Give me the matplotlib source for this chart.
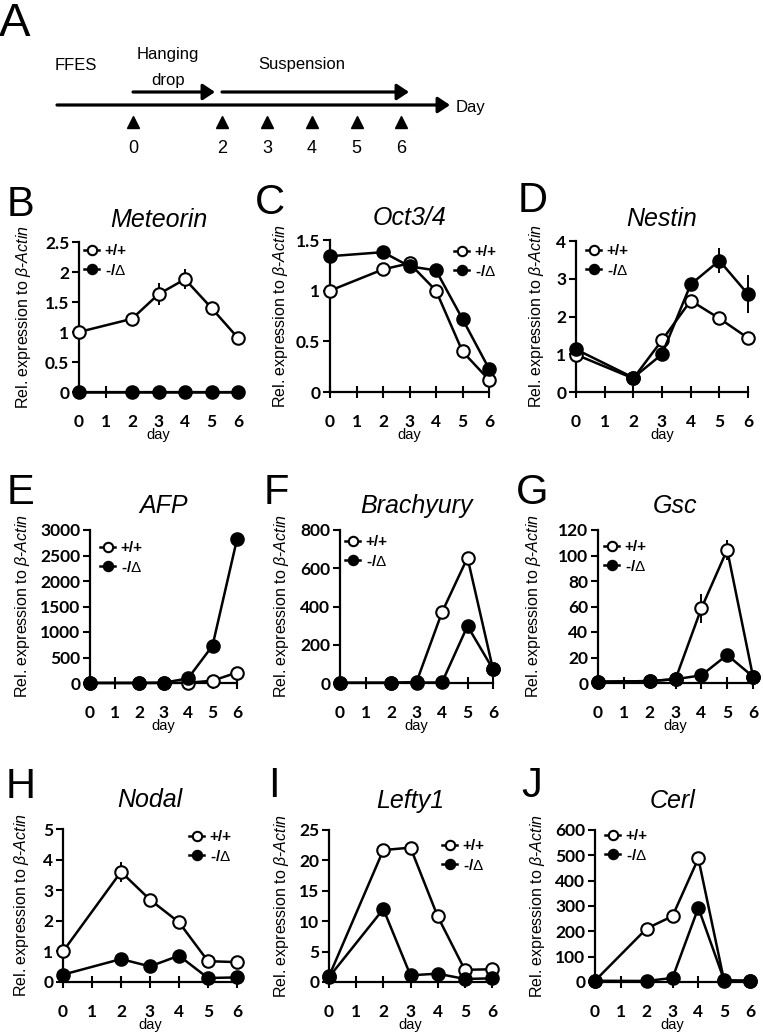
import matplotlib
matplotlib.use("Agg")
import matplotlib.pyplot as plt
from matplotlib.ticker import FuncFormatter

plt.rcParams["font.family"] = ["Liberation Sans", "DejaVu Sans"]
plt.rcParams["mathtext.fontset"] = "custom"
plt.rcParams["mathtext.it"] = "Liberation Sans:italic"
plt.rcParams["mathtext.rm"] = "Liberation Sans"

# ---- data ----
days = [0, 2, 3, 4, 5, 6]
timeline_days = [0, 2, 3, 4, 5, 6]

meteorin_wt = [1.0, 1.22, 1.63, 1.88, 1.40, 0.90]
meteorin_wt_err = [0, 0.03, 0.18, 0.17, 0.03, 0.03]
meteorin_ko = [0, 0, 0, 0, 0, 0]
meteorin_ko_err = [0, 0, 0, 0, 0, 0]

oct4_wt = [1.0, 1.21, 1.27, 1.0, 0.40, 0.12]
oct4_wt_err = [0, 0.02, 0.02, 0.02, 0.02, 0.01]
oct4_ko = [1.34, 1.38, 1.24, 1.20, 0.72, 0.23]
oct4_ko_err = [0, 0.02, 0.02, 0.02, 0.02, 0.01]

nestin_wt = [0.99, 0.36, 1.37, 2.42, 1.95, 1.43]
nestin_wt_err = [0, 0.03, 0.05, 0.05, 0.05, 0.05]
nestin_ko = [1.13, 0.38, 1.0, 2.85, 3.48, 2.59]
nestin_ko_err = [0, 0.03, 0.05, 0.05, 0.33, 0.5]

afp_wt = [1, 1, 2, 5, 45, 205]
afp_wt_err = [0, 0, 0, 0, 5, 10]
afp_ko = [1, 1, 5, 90, 730, 2820]
afp_ko_err = [0, 0, 0, 5, 20, 30]

brachyury_wt = [1, 1, 5, 370, 655, 72]
brachyury_wt_err = [0, 0, 0, 10, 10, 5]
brachyury_ko = [1, 1, 2, 3, 298, 72]
brachyury_ko_err = [0, 0, 0, 0, 10, 5]

gsc_wt = [1, 1.5, 3, 58.5, 104.5, 5]
gsc_wt_err = [0, 0, 0, 11.5, 8, 0.5]
gsc_ko = [1, 1.5, 3, 6, 22, 5]
gsc_ko_err = [0, 0, 0, 0.5, 1.5, 0.5]

nodal_wt = [1.0, 3.6, 2.69, 1.95, 0.68, 0.65]
nodal_wt_err = [0, 0.33, 0.08, 0.2, 0.03, 0.03]
nodal_ko = [0.24, 0.75, 0.51, 0.86, 0.13, 0.15]
nodal_ko_err = [0, 0.05, 0.03, 0.05, 0.02, 0.02]

lefty1_wt = [0.93, 21.7, 22.1, 10.8, 2.0, 2.1]
lefty1_wt_err = [0, 0.3, 0.3, 0.3, 0.1, 0.1]
lefty1_ko = [0.8, 12.0, 1.1, 1.37, 0.5, 0.6]
lefty1_ko_err = [0, 0.3, 0.1, 0.1, 0.05, 0.05]

cerl_wt = [5, 211, 260, 488, 4, 5]
cerl_wt_err = [0, 5, 5, 8, 0, 0]
cerl_ko = [5, 4, 16, 293, 7, 5]
cerl_ko_err = [0, 0, 2, 8, 0, 0]

genes = ["Meteorin", "Oct3/4", "Nestin", "AFP", "Brachyury", "Gsc", "Nodal", "Lefty1", "Cerl"]
letters = ["B", "C", "D", "E", "F", "G", "H", "I", "J"]
wt_series = [meteorin_wt, oct4_wt, nestin_wt, afp_wt, brachyury_wt, gsc_wt, nodal_wt, lefty1_wt, cerl_wt]
wt_errors = [meteorin_wt_err, oct4_wt_err, nestin_wt_err, afp_wt_err, brachyury_wt_err, gsc_wt_err,
             nodal_wt_err, lefty1_wt_err, cerl_wt_err]
ko_series = [meteorin_ko, oct4_ko, nestin_ko, afp_ko, brachyury_ko, gsc_ko, nodal_ko, lefty1_ko, cerl_ko]
ko_errors = [meteorin_ko_err, oct4_ko_err, nestin_ko_err, afp_ko_err, brachyury_ko_err, gsc_ko_err,
             nodal_ko_err, lefty1_ko_err, cerl_ko_err]
y_max = [2.5, 1.5, 4, 3000, 800, 120, 5, 25, 600]
y_step = [0.5, 0.5, 1, 500, 200, 20, 1, 5, 100]

# ---- layout (pixels) ----
W, H = 763, 1035
# left, top, right, bottom of plot area
boxes = [(79, 242, 238, 392), (330, 240, 489, 392), (576, 241, 748, 392),
         (90, 530, 237, 683), (340, 530, 493, 683), (598, 530, 753, 683),
         (63, 829, 237, 982), (329, 830, 492, 982), (595, 830, 750, 982)]
ylabel_off = [46, 40, 30, 58, 49, 55, 32, 38, 48]
legend_pos = [(92, 253), (462, 254), (594, 253), (108, 550), (353, 544), (612, 549),
              (197, 839), (450, 848), (613, 838)]
letter_pos = [(21, 205), (270, 203), (533, 201), (21, 493), (276, 493), (532, 493),
              (21, 787), (274, 786), (532, 786)]
title_pad = [11, 11, 11, 12, 12, 12, 16, 16, 16]

fig = plt.figure(figsize=(W / 100, H / 100), dpi=100)

# ---- panel A: timeline ----
ax0 = fig.add_axes([0, 1 - 170 / H, 1, 170 / H])
px0, per_day = 133, 44.7
ax0.set_xlim(-px0 / per_day, (W - px0) / per_day)
ax0.set_ylim(170, 0)
ax0.axis("off")


def to_day(px):
    return (px - px0) / per_day


arrow = dict(arrowstyle="-|>,head_length=0.6,head_width=0.4", lw=2.3, color="black",
             shrinkA=0, shrinkB=0, mutation_scale=12)
ax0.annotate("", xy=(to_day(450), 105), xytext=(to_day(57), 105), arrowprops=arrow)
ax0.annotate("", xy=(to_day(215), 92), xytext=(0, 92), arrowprops=arrow)
ax0.annotate("", xy=(to_day(409), 92), xytext=(to_day(222), 92), arrowprops=arrow)
ax0.plot(timeline_days, [122] * len(timeline_days), linestyle="none", marker="^",
         color="black", markersize=9)
for d in timeline_days:
    ax0.text(d, 148, str(d), ha="center", va="center", fontsize=13)
ax0.text(to_day(55), 65, "FFES", ha="left", va="center", fontsize=12)
ax0.text(to_day(168), 55, "Hanging", ha="center", va="center", fontsize=12)
ax0.text(to_day(168), 80, "drop", ha="center", va="center", fontsize=12)
ax0.text(to_day(302), 65, "Suspension", ha="center", va="center", fontsize=12)
ax0.text(to_day(456), 107, "Day", ha="left", va="center", fontsize=12)
fig.text(15 / W, 1 - 24 / H, "A", fontsize=34, ha="center", va="center")

fmt = FuncFormatter(lambda v, p: "%g" % v)

for i in range(len(genes)):
    l, t, r, b = boxes[i]
    ax = fig.add_axes([l / W, 1 - b / H, (r - l) / W, (b - t) / H])
    ax.errorbar(days, wt_series[i], yerr=wt_errors[i], color="black", lw=1.8,
                marker="o", ms=9, mfc="white", mec="black", mew=1.5,
                elinewidth=1.4, capsize=0, clip_on=False, label="+/+", zorder=3)
    ax.errorbar(days, ko_series[i], yerr=ko_errors[i], color="black", lw=1.8,
                marker="o", ms=9, mfc="black", mec="black", mew=1.5,
                elinewidth=1.4, capsize=0, clip_on=False, label="-/$\\Delta$", zorder=4)
    ax.set_xlim(0, 6)
    ax.set_ylim(0, y_max[i])
    n = int(round(y_max[i] / y_step[i]))
    ax.set_yticks([k * y_step[i] for k in range(n + 1)])
    ax.set_xticks(range(7))
    ax.yaxis.set_major_formatter(fmt)
    for s in ["top", "right"]:
        ax.spines[s].set_visible(False)
    for s in ["left", "bottom"]:
        ax.spines[s].set_linewidth(1.6)
    ax.tick_params(axis="y", direction="out", length=5, width=1.5, pad=2)
    ax.tick_params(axis="x", direction="inout", length=9, width=1.5, pad=11)
    for lab in ax.get_xticklabels() + ax.get_yticklabels():
        lab.set_family(["Lato", "DejaVu Sans"])
        lab.set_fontweight("bold")
        lab.set_fontsize(12.5)
    ax.set_xlabel("day", fontsize=10.5, labelpad=-1)
    ax.set_ylabel("Rel. expression to $\\it{\\beta}$-$\\it{Actin}$", fontsize=11.5)
    ax.yaxis.set_label_coords(-ylabel_off[i] / (r - l), 0.5)
    ax.set_title(genes[i], style="italic", fontsize=18, pad=title_pad[i])

    mx, my = legend_pos[i]
    h, labs = ax.get_legend_handles_labels()
    handles = [hh[0] for hh in h]
    ax.legend(handles, labs, loc="upper left",
              bbox_to_anchor=((mx - 8) / W, 1 - (my - 9) / H),
              bbox_transform=fig.transFigure, frameon=False, borderpad=0,
              borderaxespad=0, handlelength=1.0, handletextpad=0.35,
              labelspacing=0.3, markerscale=0.75,
              prop=dict(family="Liberation Sans", weight="bold", size=11))

    lx, ly = letter_pos[i]
    fig.text(lx / W, 1 - ly / H, letters[i], fontsize=30, ha="center", va="center")

fig.savefig("out.png", dpi=100)
